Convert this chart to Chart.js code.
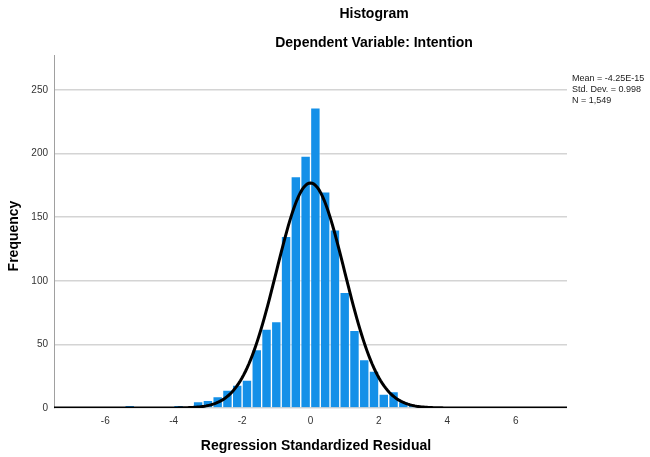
<!DOCTYPE html>
<html>
<head>
<meta charset="utf-8">
<script src="https://cdn.jsdelivr.net/npm/chart.js@4.4.1/dist/chart.umd.min.js"></script>
<style>
  html, body { margin: 0; padding: 0; background: #fff; }
  #wrap { width: 650px; height: 457px; }
</style>
</head>
<body>
<div id="wrap"><canvas id="hist" width="650" height="457"></canvas></div>
<script>
// bins are 2/7 wide, starting at 0; index k covers [k*w, (k+1)*w)
const binWidth = 2 / 7;
const binIndex = [-19, -14, -12, -11, -10, -9, -8, -7, -6, -5, -4, -3, -2, -1, 0, 1, 2, 3, 4, 5, 6, 7, 8, 9, 10];
const counts   = [  2,   2,   5,   6,   9,  14,  18,  22,  46,  62,  68, 135, 182, 198, 236, 170, 140, 91, 61, 38, 29, 11, 13, 5, 2];

const xTicks = [-6, -4, -2, 0, 2, 4, 6];
const yTicks = [0, 50, 100, 150, 200, 250];

const statMean = -4.25e-15;
const statSd = 0.998;
const statN = 1549;
const statLabels = ["Mean = -4.25E-15", "Std. Dev. = 0.998", "N = 1,549"];

const titleText = "Histogram";
const subtitleText = "Dependent Variable: Intention";
const xTitle = "Regression Standardized Residual";
const yTitle = "Frequency";

const FONT = "'Liberation Sans', Arial, sans-serif";

const barData = binIndex.map((k, i) => ({ x: (k + 0.5) * binWidth, y: counts[i] }));

// fitted normal curve from the stats shown in the legend
const curveData = [];
for (let i = 0; i <= 300; i++) {
  const x = -7.5 + i * 0.05;
  const z = (x - statMean) / statSd;
  const y = statN * binWidth * Math.exp(-0.5 * z * z) / (statSd * Math.sqrt(2 * Math.PI));
  curveData.push({ x: x, y: y });
}

const textPlugin = {
  id: "spssText",
  afterDraw(chart) {
    const c = chart.ctx;
    c.save();
    c.fillStyle = "#000";
    c.textAlign = "center";
    c.textBaseline = "middle";
    c.font = "bold 14px " + FONT;
    c.fillText(titleText, 374, 14);
    c.fillText(subtitleText, 374, 43);
    c.fillText(xTitle, 316, 446);
    c.save();
    c.translate(14, 236);
    c.rotate(-Math.PI / 2);
    c.fillText(yTitle, 0, 0);
    c.restore();

    c.textAlign = "left";
    c.font = "9px " + FONT;
    c.fillStyle = "#222";
    statLabels.forEach((t, i) => c.fillText(t, 572, 79 + i * 11));
    c.restore();
  }
};

new Chart(document.getElementById("hist"), {
  data: {
    datasets: [
      {
        type: "line",
        data: curveData,
        borderColor: "#000",
        borderWidth: 3,
        pointRadius: 0,
        tension: 0,
        order: 0
      },
      {
        type: "bar",
        data: barData,
        backgroundColor: "rgb(20, 144, 232)",
        borderColor: "rgba(255, 255, 255, 0.35)",
        borderWidth: 1,
        barPercentage: 1,
        categoryPercentage: 1,
        order: 1
      }
    ]
  },
  options: {
    responsive: false,
    animation: false,
    layout: { padding: { top: 55, right: 83, left: 0, bottom: 0 } },
    plugins: {
      legend: { display: false },
      tooltip: { enabled: false }
    },
    scales: {
      x: {
        type: "linear",
        min: -7.5,
        max: 7.5,
        offset: false,
        afterBuildTicks: (s) => { s.ticks = xTicks.map(v => ({ value: v })); },
        afterFit: (s) => { s.height = 49; },
        grid: { display: false, offset: false, drawTicks: false },
        border: { display: false },
        ticks: {
          color: "#333",
          font: { family: FONT, size: 10 },
          padding: 7,
          maxRotation: 0
        }
      },
      y: {
        min: 0,
        max: 277.5,
        afterBuildTicks: (s) => { s.ticks = yTicks.map(v => ({ value: v })); },
        afterFit: (s) => { s.width = 54; },
        grid: { color: "#d4d4d4", lineWidth: 1.5, drawTicks: false },
        border: { display: true, color: "#a0a0a0", width: 1 },
        ticks: {
          color: "#333",
          font: { family: FONT, size: 10 },
          padding: 6
        }
      }
    }
  },
  plugins: [textPlugin]
});
</script>
</body>
</html>
